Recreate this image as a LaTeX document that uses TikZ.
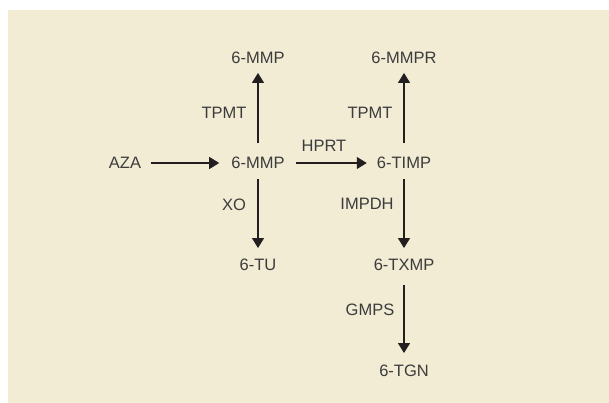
\documentclass[tikz,border=0pt]{standalone}
\usepackage{fontspec}
\setmainfont{Liberation Sans}
\usetikzlibrary{arrows.meta}
\definecolor{bgbeige}{RGB}{242,236,213}
\definecolor{txtgray}{RGB}{60,60,60}
\definecolor{arrowblk}{RGB}{35,31,32}
\begin{document}
\begin{tikzpicture}[x=1pt,y=-1pt,
  lbl/.style={inner sep=0pt,text depth=0pt,text=txtgray,font=\fontsize{16.5}{19}\selectfont},
  conn/.style={draw=arrowblk,line width=1.3pt,-{Triangle[length=10pt,width=12pt]},shorten <=11pt,shorten >=11pt}]
\useasboundingbox (0,0) rectangle (609,403);
\fill[bgbeige] (8,10) rectangle (609,403);
% metabolites
\node[lbl] (aza) at (125,163) {AZA};
\node[lbl] (mmp) at (258,163) {6-MMP};
\node[lbl] (mmptop) at (258,58) {6-MMP};
\node[lbl] (tu) at (258,265) {6-TU};
\node[lbl] (timp) at (404,163) {6-TIMP};
\node[lbl] (mmpr) at (404,58) {6-MMPR};
\node[lbl] (txmp) at (404,265) {6-TXMP};
\node[lbl] (tgn) at (404,371) {6-TGN};
% enzymes
\node[lbl] (tpmt1) at (224,113) {TPMT};
\node[lbl] (tpmt2) at (370,113) {TPMT};
\node[lbl] (hprt) at (324,146) {HPRT};
\node[lbl] (xo) at (234,205) {XO};
\node[lbl] (impdh) at (367,204) {IMPDH};
\node[lbl] (gmps) at (370,310) {GMPS};
% connectors
\draw[conn,shorten <=10pt,shorten >=12pt] (aza) -- (mmp);
\draw[conn,shorten <=14pt,shorten >=9pt] (mmp) -- (mmptop);
\draw[conn,shorten <=10pt,shorten >=11pt] (mmp) -- (tu);
\draw[conn,shorten <=11pt,shorten >=10pt] (mmp) -- (timp);
\draw[conn,shorten <=14pt,shorten >=9pt] (timp) -- (mmpr);
\draw[conn,shorten <=10pt,shorten >=11pt] (timp) -- (txmp);
\draw[conn,shorten <=14pt,shorten >=12pt] (txmp) -- (tgn);
\end{tikzpicture}
\end{document}
